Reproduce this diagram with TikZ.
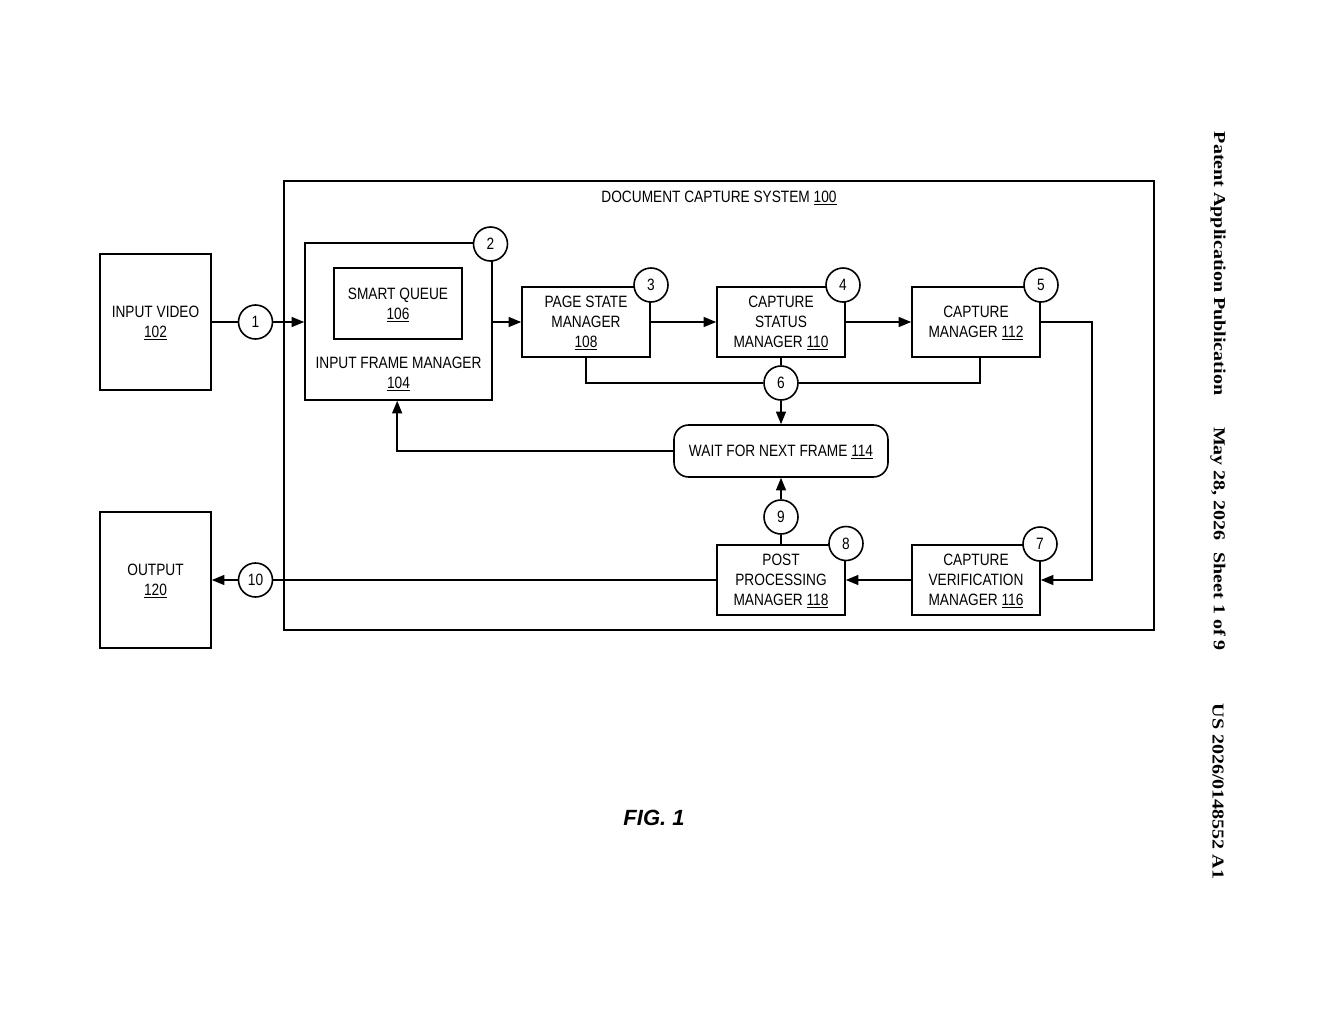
\documentclass[tikz,border=0pt]{standalone}
\usepackage{fontspec}
\setmainfont[FakeStretch=0.835]{Liberation Sans}
\newfontfamily\sidefont[FakeStretch=1.2]{Liberation Serif}
\newfontfamily\figfont{Liberation Sans}
\usetikzlibrary{shapes, arrows.meta}
\tikzstyle{sysbox} = [rectangle, minimum width=652.5pt, minimum height=336.75pt, draw=black, line width=1.2pt]
\tikzstyle{iobox} = [rectangle, minimum width=83.25pt, minimum height=102pt, align=center, text centered, text depth=0pt, draw=black, line width=1.2pt]
\tikzstyle{manager} = [rectangle, minimum width=96pt, minimum height=52.5pt, align=center, text centered, text depth=0pt, draw=black, line width=1.2pt]
\tikzstyle{waitbox} = [rectangle, rounded corners=11pt, minimum width=160.5pt, minimum height=39pt, text centered, text depth=0pt, draw=black, line width=1.2pt]
\tikzstyle{badge} = [circle, minimum size=25.5pt, inner sep=0pt, draw=black, fill=white, line width=1.2pt]
\tikzstyle{edge} = [line width=1.2pt, ->, >={Triangle[length=9.5pt,width=7.5pt]}]
\tikzstyle{plain} = [line width=1.2pt]
\tikzstyle{sidetext} = [rotate=-90, font=\sidefont\bfseries\fontsize{12.5}{15}\selectfont, inner sep=0pt]

\begin{document}
\begin{tikzpicture}[x=0.75pt, y=-0.75pt, font=\fontsize{12.3}{15}\selectfont]
\useasboundingbox (0,0) rectangle (1320,1024);

\node (sys) [sysbox] at (719,405.5) {};
\node (systitle) at (719,198) {DOCUMENT CAPTURE SYSTEM \underline{100}};

\node (input) [iobox] at (155.5,322) {INPUT VIDEO\\\underline{102}};
\node (output) [iobox] at (155.5,580) {OUTPUT\\\underline{120}};

\node (frame) [rectangle, draw=black, line width=1.2pt, minimum width=140.25pt, minimum height=117.75pt] at (398.5,321.5) {};
\node (framelabel) [align=center, text depth=0pt] at (398.5,373) {INPUT FRAME MANAGER\\\underline{104}};
\node (queue) [rectangle, draw=black, line width=1.2pt, minimum width=96pt, minimum height=53.25pt, align=center, text depth=0pt] at (398,303.5) {SMART QUEUE\\\underline{106}};

\node (page) [manager] at (586,322) {PAGE STATE\\MANAGER\\\underline{108}};
\node (status) [manager] at (781,322) {CAPTURE\\STATUS\\MANAGER \underline{110}};
\node (capture) [manager] at (976,322) {CAPTURE\\MANAGER \underline{112}};
\node (wait) [waitbox] at (781,451) {WAIT FOR NEXT FRAME \underline{114}};
\node (post) [manager] at (781,580) {POST\\PROCESSING\\MANAGER \underline{118}};
\node (verify) [manager] at (976,580) {CAPTURE\\VERIFICATION\\MANAGER \underline{116}};

\node (c1) [badge] at (255.5,322) {1};
\node (c2) [badge] at (490.5,244) {2};
\node (c3) [badge] at (651,285) {3};
\node (c4) [badge] at (843,285) {4};
\node (c5) [badge] at (1041,285) {5};
\node (c6) [badge] at (781,383) {6};
\node (c7) [badge] at (1040,544) {7};
\node (c8) [badge] at (846,543.5) {8};
\node (c9) [badge] at (781,517) {9};
\node (c10) [badge] at (255.5,580) {10};

\coordinate (turn) at (1092,451);

\draw [plain] (input) -- (c1);
\draw [edge] (c1) -- (frame.west |- c1);
\draw [edge] (frame.east |- page) -- (page);
\draw [edge] (page) -- (status);
\draw [edge] (status) -- (capture);
\draw [edge] (capture) -| (turn) |- (verify);
\draw [edge] (verify) -- (post);
\draw [plain] (status) -- (c6);
\draw [plain] (page) |- (c6);
\draw [plain] ([xshift=3pt]capture.south) |- (c6);
\draw [edge] (c6) -- (wait);
\draw [edge] (wait) -| ([xshift=-1pt]frame.south);
\draw [edge] (c9) -- (wait);
\draw [plain] (post) -- (c9);
\draw [plain] (post) -- (c10);
\draw [edge] (c10) -- (output);

\node (fig) [font=\figfont\bfseries\itshape\fontsize{16.5}{20}\selectfont] at (654,818) {FIG. 1};
\node (pub) [sidetext] at (1218,263.5) {Patent Application Publication};
\node (date) [sidetext] at (1218,539) {May 28, 2026\hspace{0.7em}Sheet 1 of 9};
\node (num) [sidetext] at (1218,791.5) {US 2026/0148552 A1};

\end{tikzpicture}
\end{document}
